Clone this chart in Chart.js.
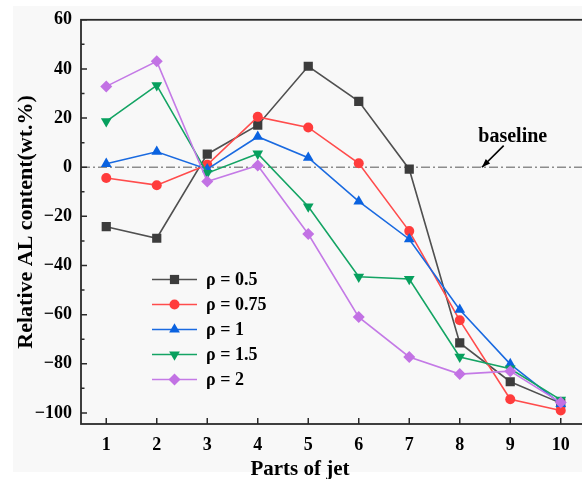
<!DOCTYPE html>
<html>
<head>
<meta charset="utf-8">
<script src="https://cdn.jsdelivr.net/npm/chart.js@4.4.1/dist/chart.umd.min.js"></script>
<style>
  html, body { margin: 0; padding: 0; background: #fff; overflow: hidden; width: 582px; height: 479px; }
  #frame { position: absolute; left: 13px; top: 6px; width: 569px; height: 466px; background: #f8f8f8; }
  #wrap { position: absolute; left: 0; top: 0; width: 600px; height: 479px; }
</style>
</head>
<body>
<div id="frame"></div>
<div id="wrap"><canvas id="chart" width="600" height="479"></canvas></div>
<script>
// values
const parts = [1, 2, 3, 4, 5, 6, 7, 8, 9, 10];
const rho05  = [-24.2, -28.9, 5.3, 17.1, 41.1, 26.8, -0.8, -71.5, -87.3, -96.0];
const rho075 = [-4.4, -7.3, 1.0, 20.5, 16.2, 1.6, -26.0, -62.3, -94.4, -99.0];
const rho1   = [1.4, 6.3, -0.8, 12.4, 3.9, -13.9, -29.3, -58.0, -80.1, -96.3];
const rho15  = [18.7, 33.3, -2.4, 5.5, -16.0, -44.6, -45.5, -77.2, -82.0, -94.7];
const rho2   = [32.9, 43.1, -5.8, 0.7, -27.2, -61.0, -77.2, -84.2, -83.0, -95.8];
const seriesLabels = ['ρ = 0.5', 'ρ = 0.75', 'ρ = 1', 'ρ = 1.5', 'ρ = 2'];
const yTicks = [-100, -80, -60, -40, -20, 0, 20, 40, 60];
const yMinorTicks = [-90, -70, -50, -30, -10, 10, 30, 50];

const FONT = "'Times New Roman', 'Liberation Serif', serif";

const markerColors = ['#3c3c3c', '#ff3c3c', '#0a62e0', '#07a05e', '#c272e4'];
const lineColors = ['#505050', '#ff4c4c', '#1a6ae0', '#14a464', '#c47ae6'];
const markerStyles = ['rect', 'circle', 'triangle', 'triangle', 'rectRot'];
const markerRotations = [0, 0, 0, 180, 0];
const markerRadii = [6.5, 5, 6.2, 6.2, 6];
const allSeries = [rho05, rho075, rho1, rho15, rho2];

const datasets = allSeries.map((vals, i) => ({
    label: seriesLabels[i],
    data: vals.map((v, j) => ({ x: parts[j], y: v })),
    borderColor: lineColors[i],
    backgroundColor: markerColors[i],
    pointBackgroundColor: markerColors[i],
    pointBorderColor: markerColors[i],
    pointBorderWidth: 0,
    pointStyle: markerStyles[i],
    pointRotation: markerRotations[i],
    pointRadius: markerRadii[i],
    pointHoverRadius: markerRadii[i],
    borderWidth: 1.6,
    tension: 0,
    order: 4 - i
}));

// dash-dot reference line at zero
datasets.push({
    label: 'baseline',
    data: [{ x: 0.5, y: 0 }, { x: 10.5, y: 0 }],
    borderColor: '#8c8c8c',
    borderWidth: 1.5,
    borderDash: [9, 3, 2, 3],
    pointRadius: 0,
    order: 10
});

// simple marker painter for the legend
function drawMarker(ctx, style, rot, r, cx, cy) {
    ctx.beginPath();
    if (style === 'rect') {
        const s = r * Math.SQRT1_2;
        ctx.rect(cx - s, cy - s, 2 * s, 2 * s);
    } else if (style === 'circle') {
        ctx.arc(cx, cy, r, 0, Math.PI * 2);
    } else if (style === 'triangle') {
        const d = rot === 180 ? -1 : 1;
        ctx.moveTo(cx, cy - d * r);
        ctx.lineTo(cx + r * Math.sin(Math.PI / 3), cy + d * r * 0.5);
        ctx.lineTo(cx - r * Math.sin(Math.PI / 3), cy + d * r * 0.5);
        ctx.closePath();
    } else if (style === 'rectRot') {
        ctx.moveTo(cx - r, cy);
        ctx.lineTo(cx, cy - r);
        ctx.lineTo(cx + r, cy);
        ctx.lineTo(cx, cy + r);
        ctx.closePath();
    }
    ctx.fill();
}

const decorPlugin = {
    id: 'decor',
    afterDraw(chart) {
        const { ctx, chartArea: a, scales: { x, y } } = chart;
        ctx.save();

        // inward ticks
        ctx.strokeStyle = '#2a2a2a';
        ctx.lineWidth = 1.5;
        ctx.beginPath();
        parts.forEach(p => {
            const px = x.getPixelForValue(p);
            ctx.moveTo(px, a.bottom);
            ctx.lineTo(px, a.bottom - 6);
        });
        yTicks.forEach(v => {
            const py = y.getPixelForValue(v);
            ctx.moveTo(a.left, py);
            ctx.lineTo(a.left + 6, py);
        });
        yMinorTicks.forEach(v => {
            const py = y.getPixelForValue(v);
            ctx.moveTo(a.left, py);
            ctx.lineTo(a.left + 3.5, py);
        });
        ctx.stroke();

        // frame
        ctx.lineWidth = 1.8;
        ctx.strokeRect(a.left, a.top, a.right - a.left, a.bottom - a.top);

        // legend
        ctx.font = `bold 18px ${FONT}`;
        ctx.textBaseline = 'middle';
        ctx.textAlign = 'left';
        seriesLabels.forEach((lab, i) => {
            const ry = 279.5 + i * 25;
            ctx.strokeStyle = lineColors[i];
            ctx.lineWidth = 1.6;
            ctx.beginPath();
            ctx.moveTo(152, ry);
            ctx.lineTo(197, ry);
            ctx.stroke();
            ctx.fillStyle = markerColors[i];
            drawMarker(ctx, markerStyles[i], markerRotations[i], markerRadii[i], 174.5, ry);
            ctx.fillStyle = '#000';
            ctx.fillText(lab, 206, ry + 1);
        });

        // x axis title
        ctx.font = `bold 21px ${FONT}`;
        ctx.textAlign = 'center';
        ctx.textBaseline = 'alphabetic';
        ctx.fillText('Parts of jet', 300, 475);

        // baseline annotation with arrow
        ctx.font = `bold 20px ${FONT}`;
        ctx.fillText('baseline', x.getPixelForValue(9.05), y.getPixelForValue(10.2));
        const x0 = x.getPixelForValue(8.87), y0 = y.getPixelForValue(8.8);
        const x1 = x.getPixelForValue(8.44), y1 = y.getPixelForValue(0);
        ctx.strokeStyle = '#000';
        ctx.lineWidth = 1.6;
        ctx.beginPath();
        ctx.moveTo(x0, y0);
        ctx.lineTo(x1, y1);
        ctx.stroke();
        const ang = Math.atan2(y1 - y0, x1 - x0);
        ctx.fillStyle = '#000';
        ctx.beginPath();
        ctx.moveTo(x1, y1);
        ctx.lineTo(x1 - 9 * Math.cos(ang - 0.35), y1 - 9 * Math.sin(ang - 0.35));
        ctx.lineTo(x1 - 9 * Math.cos(ang + 0.35), y1 - 9 * Math.sin(ang + 0.35));
        ctx.closePath();
        ctx.fill();

        ctx.restore();
    }
};

new Chart(document.getElementById('chart').getContext('2d'), {
    type: 'line',
    data: { datasets },
    options: {
        responsive: false,
        animation: false,
        layout: { padding: { top: 18, right: 14, left: 0, bottom: 0 } },
        plugins: {
            legend: { display: false },
            tooltip: { enabled: false }
        },
        scales: {
            x: {
                type: 'linear',
                min: 0.5,
                max: 10.5,
                afterBuildTicks: (scale) => { scale.ticks = parts.map(v => ({ value: v })); },
                afterFit: (scale) => { scale.height = 55; },
                grid: { display: false, drawTicks: false },
                border: { display: false },
                ticks: {
                    color: '#000',
                    padding: 11,
                    maxRotation: 0,
                    font: { family: FONT, size: 18, weight: 'bold' }
                }
            },
            y: {
                min: -104.5,
                max: 60,
                afterBuildTicks: (scale) => { scale.ticks = yTicks.map(v => ({ value: v })); },
                afterFit: (scale) => { scale.width = 81; },
                grid: { display: false, drawTicks: false },
                border: { display: false },
                ticks: {
                    color: '#000',
                    padding: 9,
                    font: { family: FONT, size: 18, weight: 'bold' },
                    callback: (v) => (v < 0 ? '\u2212' + Math.abs(v) : String(v))
                },
                title: {
                    display: true,
                    text: 'Relative AL content(wt.%)',
                    color: '#000',
                    font: { family: FONT, size: 22, weight: 'bold' },
                    padding: { top: 13, bottom: 0 }
                }
            }
        }
    },
    plugins: [decorPlugin]
});
</script>
</body>
</html>
